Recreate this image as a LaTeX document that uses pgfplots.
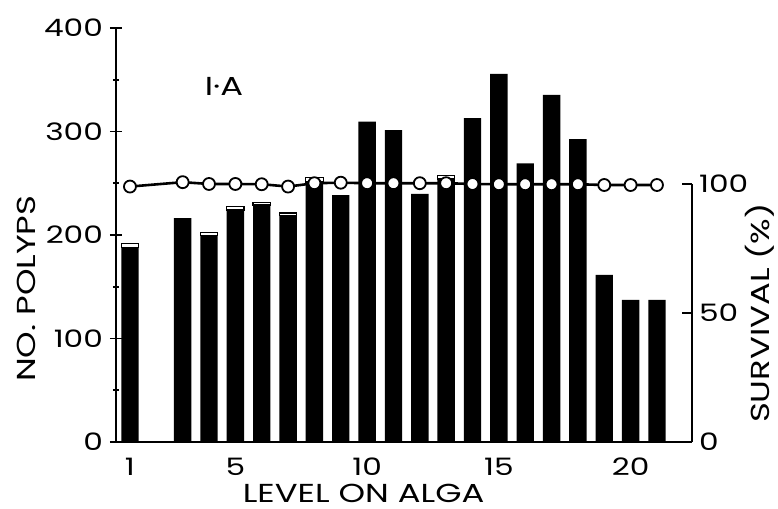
\documentclass[border=0pt]{standalone}
\usepackage{fontspec}
\setmainfont{Poppins}[FakeStretch=1.3]
\usepackage{pgfplots}
\pgfplotsset{compat=1.18}

\begin{document}
\begin{tikzpicture}
\begin{axis}[
    name=ax,
    scale only axis,
    width=288pt, height=207pt,
    xmin=0.47, xmax=22.33,
    ymin=0, ymax=400,
    axis x line*=bottom,
    axis y line*=left,
    axis line style={line width=0.8pt},
    ybar stacked,
    bar width=0.66,
    xtick={1,5,10,15,20},
    xtick style={draw=none},
    ytick={0,100,200,300,400},
    minor ytick={50,150,250,350},
    tick align=center,
    major tick length=6pt,
    minor tick length=3pt,
    tick style={line width=0.8pt, black},
    /pgf/number format/assume math mode=true,
    ticklabel style={font=\fontsize{12}{14}\selectfont},
    xticklabel style={yshift=-1.5pt},
    label style={font=\fontsize{13}{15}\selectfont},
    xlabel={LEVEL ON ALGA},
    ylabel={NO.\ POLYPS},
    xlabel style={at={(axis description cs:0.43,0)}, yshift=-25.5pt, anchor=center},
    % label is rotated, so its yshift moves it sideways
    ylabel style={at={(axis description cs:0,0.37)}, yshift=45pt, anchor=center},
]
% live polyps (black)
\addplot[fill=black, draw=none] coordinates {
    (1,187.7) (3,216.4) (4,199.5) (5,224.2) (6,229.0) (7,219.0)
    (8,251.2) (9,238.6) (10,309.5) (11,301.4) (12,239.6) (13,254.1)
    (14,312.8) (15,355.6) (16,269.3) (17,335.3) (18,292.5) (19,161.4)
    (20,137.2) (21,137.2)
};
% thin white cap on some bars
\addplot[fill=white, draw=black, line width=0.6pt] coordinates {
    (1,3.9) (3,0) (4,3.1) (5,3.1) (6,2.6) (7,2.3)
    (8,4.5) (9,0) (10,0) (11,0) (12,0) (13,3.2)
    (14,0) (15,0) (16,0) (17,0) (18,0) (19,0)
    (20,0) (21,0)
};
\node[font=\fontsize{13}{15}\selectfont] at (axis cs:4.57,344) {I·A};
\end{axis}

\begin{axis}[
    at={(ax.south west)}, anchor=south west,
    scale only axis,
    width=288pt, height=129pt,
    xmin=0.47, xmax=22.33,
    ymin=0, ymax=100,
    axis x line=none,
    axis y line*=right,
    axis line style={line width=0.8pt},
    clip=false,
    ytick={0,50,100},
    tick align=inside,
    major tick length=5pt,
    tick style={line width=0.8pt, black},
    /pgf/number format/assume math mode=true,
    ticklabel style={font=\fontsize{12}{14}\selectfont},
    label style={font=\fontsize{13}{15}\selectfont},
    ylabel={SURVIVAL (\%)},
    ylabel style={at={(axis description cs:1,0.5)}, yshift=-34pt, anchor=center},
]
\addplot[black, line width=1.3pt, mark=*, mark size=3pt,
    mark options={fill=white, draw=black, line width=0.9pt}] coordinates {
    (1,99.0) (3,100.7) (4,100) (5,100) (6,99.9) (7,99.0)
    (8,100.3) (9,100.5) (10,100.3) (11,100.3) (12,100.3) (13,100.3)
    (14,100) (15,99.9) (16,99.9) (17,99.9) (18,99.9) (19,99.6)
    (20,99.6) (21,99.6)
};
\end{axis}

\pgfresetboundingbox
\path[use as bounding box] ([shift={(-58pt,-33.5pt)}]ax.south west)
    rectangle ([shift={(43pt,14pt)}]ax.north east);
\end{tikzpicture}
\end{document}
